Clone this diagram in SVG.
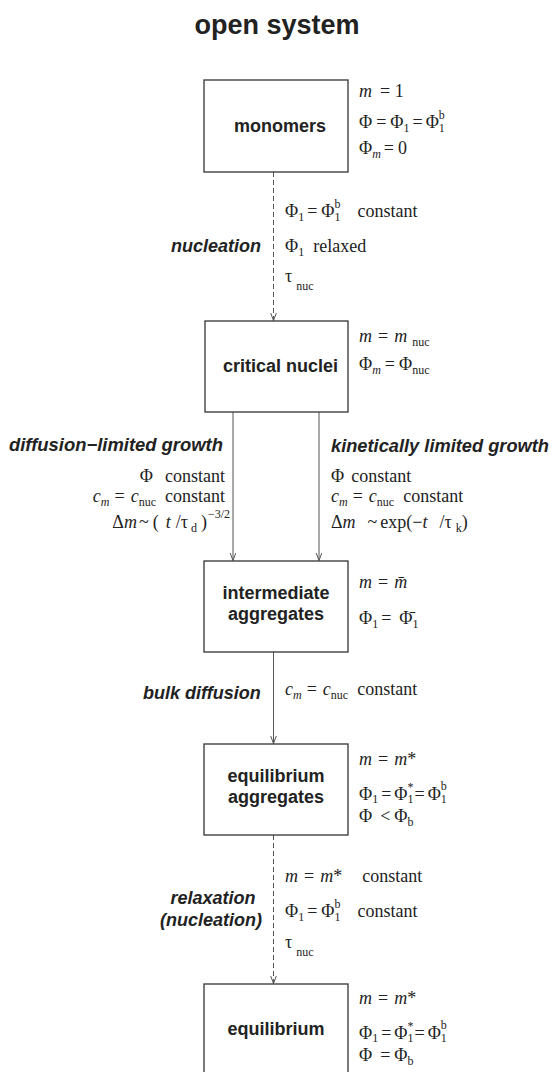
<svg xmlns="http://www.w3.org/2000/svg" width="552" height="1072" viewBox="0 0 552 1072">
<style>
.box{fill:#fff;stroke:#333;stroke-width:1.3}
.lbl{font-family:"Liberation Sans",Arial,sans-serif;font-weight:bold;font-size:18px;fill:#222;text-anchor:middle}
.proc{font-family:"Liberation Sans",Arial,sans-serif;font-weight:bold;font-style:italic;font-size:18px;fill:#222}
.m{font-family:"Liberation Serif","Times New Roman",serif;font-size:18px;fill:#222}
.i{font-style:italic}
.s{font-size:12px}
.end{text-anchor:end}
.conn line{stroke:#555;stroke-width:1;fill:none}
.dash{stroke-dasharray:5 3}
</style>
<defs>
<marker id="arr" markerWidth="10" markerHeight="8" refX="8" refY="3" orient="auto" markerUnits="userSpaceOnUse">
<path d="M0,0 L8,3 L0,6" fill="none" stroke="#555" stroke-width="1"/>
</marker>
</defs>
<rect width="552" height="1072" fill="#fff"/>
<text x="277" y="34" font-family="Liberation Sans,Arial,sans-serif" font-weight="bold" font-size="27" fill="#222" text-anchor="middle">open system</text>

<g id="connectors" class="conn">
<line class="dash" x1="273.5" y1="172" x2="273.5" y2="320.5" marker-end="url(#arr)"/>
<line x1="233" y1="412" x2="233" y2="560.5" marker-end="url(#arr)"/>
<line x1="319" y1="412" x2="319" y2="560.5" marker-end="url(#arr)"/>
<line x1="273.5" y1="652" x2="273.5" y2="743.5" marker-end="url(#arr)"/>
<line class="dash" x1="273.5" y1="835" x2="273.5" y2="983.5" marker-end="url(#arr)"/>
</g>

<g id="monomers">
<rect class="box" x="204" y="80" width="144" height="92"/>
<text class="lbl" x="280" y="132">monomers</text>
<text class="m" x="359" y="97"><tspan class="i">m</tspan><tspan dx="8">= 1</tspan></text>
<text class="m" x="359" y="128">Φ<tspan dx="4">=</tspan><tspan dx="4">Φ</tspan><tspan class="s" dy="4">1</tspan><tspan dy="-4" dx="3">=</tspan><tspan dx="3">Φ</tspan><tspan class="s" dy="4">1</tspan><tspan class="s" dx="-6" dy="-13">b</tspan></text>
<text class="m" x="359" y="154">Φ<tspan class="s i" dy="4">m</tspan><tspan dy="-4" dx="3">=</tspan><tspan dx="4">0</tspan></text>
</g>

<g id="nucleation">
<text class="proc" x="171" y="252">nucleation</text>
<text class="m" x="285" y="217">Φ<tspan class="s" dy="4">1</tspan><tspan dy="-4" dx="3">=</tspan><tspan dx="4">Φ</tspan><tspan class="s" dy="4">1</tspan><tspan class="s" dx="-6" dy="-13">b</tspan><tspan dy="9" dx="17">constant</tspan></text>
<text class="m" x="285" y="252">Φ<tspan class="s" dy="4">1</tspan><tspan dy="-4" dx="9">relaxed</tspan></text>
<text class="m" x="285" y="282">τ<tspan class="s" dy="8" dx="4">nuc</tspan></text>
</g>

<g id="critical-nuclei">
<rect class="box" x="205" y="321" width="143" height="91"/>
<text class="lbl" x="280.5" y="372">critical nuclei</text>
<text class="m" x="359" y="342"><tspan class="i">m</tspan><tspan dx="6">=</tspan><tspan class="i" dx="6">m</tspan><tspan class="s" dy="4" dx="5">nuc</tspan></text>
<text class="m" x="359" y="370">Φ<tspan class="s i" dy="4">m</tspan><tspan dy="-4" dx="4">=</tspan><tspan dx="4">Φ</tspan><tspan class="s" dy="4">nuc</tspan></text>
</g>

<g id="diffusion-limited">
<text class="proc end" x="223" y="451" textLength="214" lengthAdjust="spacingAndGlyphs">diffusion−limited growth</text>
<text class="m end" x="225" y="482">Φ<tspan dx="12">constant</tspan></text>
<text class="m end" x="225" y="502"><tspan class="i">c</tspan><tspan class="s i" dy="4">m</tspan><tspan dy="-4" dx="5">=</tspan><tspan class="i" dx="6">c</tspan><tspan class="s" dy="4">nuc</tspan><tspan dy="-4" dx="9">constant</tspan></text>
<text class="m end" x="230" y="528">Δ<tspan class="i">m</tspan><tspan dx="2">~</tspan><tspan dx="4">(</tspan><tspan class="i" dx="7">t</tspan><tspan dx="5">/τ</tspan><tspan class="s" dy="4" dx="3">d</tspan><tspan dy="-4" dx="4">)</tspan><tspan class="s" dy="-10" dx="1">−3/2</tspan></text>
</g>

<g id="kinetically-limited">
<text class="proc" x="331" y="452" textLength="218" lengthAdjust="spacingAndGlyphs">kinetically limited growth</text>
<text class="m" x="331" y="482">Φ<tspan dx="7">constant</tspan></text>
<text class="m" x="331" y="502"><tspan class="i">c</tspan><tspan class="s i" dy="4">m</tspan><tspan dy="-4" dx="5">=</tspan><tspan class="i" dx="6">c</tspan><tspan class="s" dy="4">nuc</tspan><tspan dy="-4" dx="9">constant</tspan></text>
<text class="m" x="331" y="528">Δ<tspan class="i">m</tspan><tspan dx="12">~</tspan><tspan dx="3">exp(−</tspan><tspan class="i">t</tspan><tspan dx="12">/τ</tspan><tspan class="s" dy="4" dx="4">k</tspan><tspan dy="-4">)</tspan></text>
</g>

<g id="intermediate-aggregates">
<rect class="box" x="204" y="561" width="144" height="91"/>
<text class="lbl" x="276" y="599">intermediate</text>
<text class="lbl" x="276" y="619.5">aggregates</text>
<text class="m" x="359" y="588"><tspan class="i">m</tspan><tspan dx="6">=</tspan><tspan class="i" dx="6">m̄</tspan></text>
<text class="m" x="359" y="624">Φ<tspan class="s" dy="4">1</tspan><tspan dy="-4" dx="3">=</tspan><tspan dx="8">Φ̄</tspan><tspan class="s" dy="4">1</tspan></text>
</g>

<g id="bulk-diffusion">
<text class="proc" x="143" y="699">bulk diffusion</text>
<text class="m" x="285" y="695"><tspan class="i">c</tspan><tspan class="s i" dy="4">m</tspan><tspan dy="-4" dx="5">=</tspan><tspan class="i" dx="6">c</tspan><tspan class="s" dy="4">nuc</tspan><tspan dy="-4" dx="9">constant</tspan></text>
</g>

<g id="equilibrium-aggregates">
<rect class="box" x="204" y="744" width="144" height="91"/>
<text class="lbl" x="276" y="782">equilibrium</text>
<text class="lbl" x="276" y="802.5">aggregates</text>
<text class="m" x="359" y="765"><tspan class="i">m</tspan><tspan dx="6">=</tspan><tspan class="i" dx="6">m</tspan>*</text>
<text class="m" x="359" y="800">Φ<tspan class="s" dy="3">1</tspan><tspan dy="-3" dx="3">=</tspan><tspan dx="3">Φ</tspan><tspan class="s" dy="3">1</tspan><tspan class="s" dx="-6" dy="-12">*</tspan><tspan dy="9" dx="1">=</tspan><tspan dx="3">Φ</tspan><tspan class="s" dy="3">1</tspan><tspan class="s" dx="-6" dy="-13">b</tspan></text>
<text class="m" x="359" y="822">Φ<tspan dx="8">&lt;</tspan><tspan dx="4">Φ</tspan><tspan class="s" dy="4">b</tspan></text>
</g>

<g id="relaxation">
<text class="proc" x="213" y="904" text-anchor="middle">relaxation</text>
<text class="proc" x="211" y="926" text-anchor="middle">(nucleation)</text>
<text class="m" x="285" y="882"><tspan class="i">m</tspan><tspan dx="6">=</tspan><tspan class="i" dx="6">m</tspan>*<tspan dx="20">constant</tspan></text>
<text class="m" x="285" y="917">Φ<tspan class="s" dy="4">1</tspan><tspan dy="-4" dx="3">=</tspan><tspan dx="4">Φ</tspan><tspan class="s" dy="4">1</tspan><tspan class="s" dx="-6" dy="-13">b</tspan><tspan dy="9" dx="17">constant</tspan></text>
<text class="m" x="285" y="948">τ<tspan class="s" dy="8" dx="4">nuc</tspan></text>
</g>

<g id="equilibrium">
<rect class="box" x="204" y="984" width="144" height="100"/>
<text class="lbl" x="276" y="1035">equilibrium</text>
<text class="m" x="359" y="1004"><tspan class="i">m</tspan><tspan dx="6">=</tspan><tspan class="i" dx="6">m</tspan>*</text>
<text class="m" x="359" y="1039">Φ<tspan class="s" dy="3">1</tspan><tspan dy="-3" dx="3">=</tspan><tspan dx="3">Φ</tspan><tspan class="s" dy="3">1</tspan><tspan class="s" dx="-6" dy="-12">*</tspan><tspan dy="9" dx="1">=</tspan><tspan dx="3">Φ</tspan><tspan class="s" dy="3">1</tspan><tspan class="s" dx="-6" dy="-13">b</tspan></text>
<text class="m" x="359" y="1061">Φ<tspan dx="8">=</tspan><tspan dx="4">Φ</tspan><tspan class="s" dy="4">b</tspan></text>
</g>
</svg>
